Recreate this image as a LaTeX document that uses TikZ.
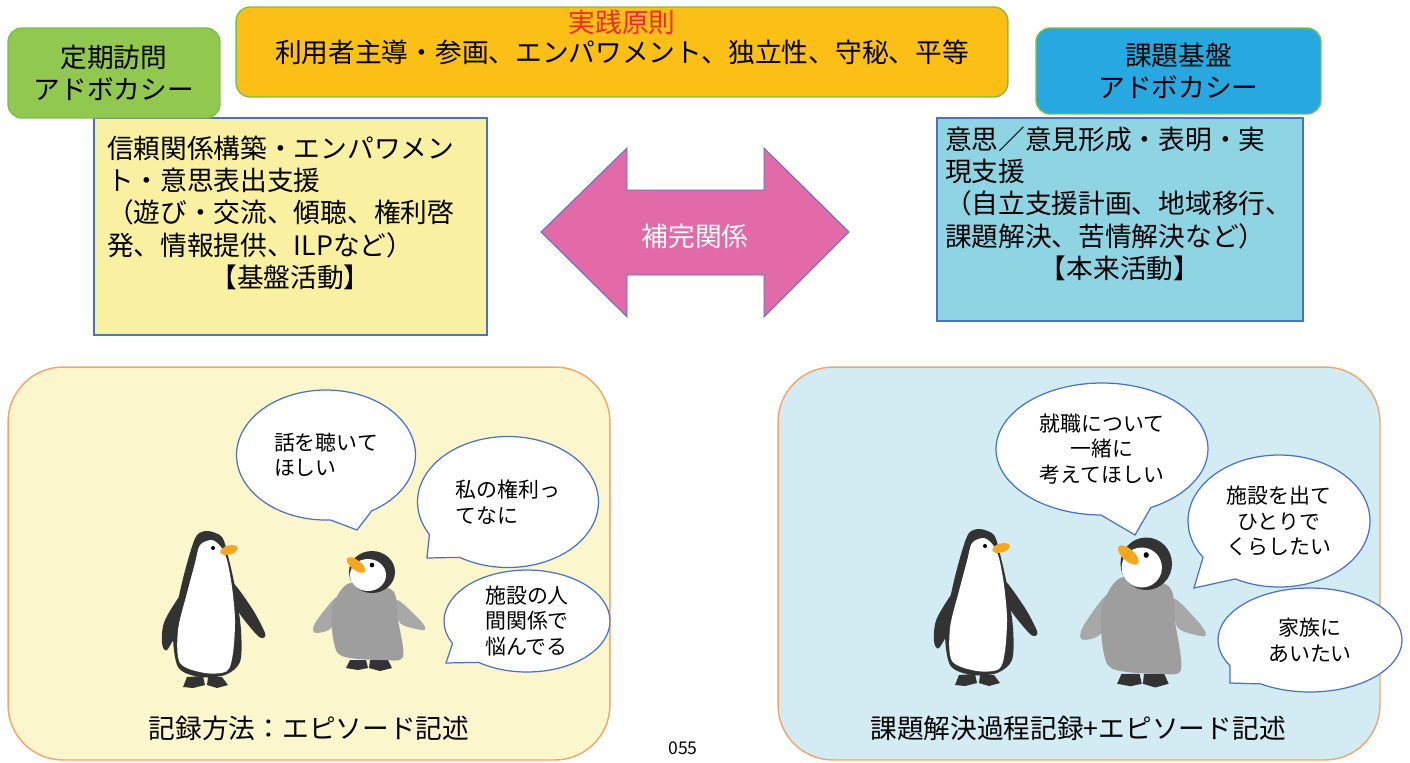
\documentclass[tikz,border=0pt]{standalone}
\usepackage{fontspec}
\setmainfont{Noto Sans CJK JP}
\usetikzlibrary{positioning,shapes.callouts}

\definecolor{visitgreen}{HTML}{90C850}
\definecolor{edgegreen}{HTML}{80BC4C}
\definecolor{principlegold}{HTML}{FBBF15}
\definecolor{issueblue}{HTML}{28A8E0}
\definecolor{paleyellow}{HTML}{F9F0A1}
\definecolor{palecyan}{HTML}{8ED4E3}
\definecolor{lineblue}{HTML}{4A72C4}
\definecolor{relpink}{HTML}{E26AA8}
\definecolor{panelyellow}{HTML}{FCF6CC}
\definecolor{panelblue}{HTML}{D3ECF4}
\definecolor{panelorange}{HTML}{F2A469}
\definecolor{titlered}{HTML}{EE2A2A}
\definecolor{penguindark}{HTML}{333333}
\definecolor{beakorange}{HTML}{F5A81E}
\definecolor{chickgray}{HTML}{9E9E9E}
\definecolor{winggray}{HTML}{A8A8A8}

\begin{document}
\begin{tikzpicture}[
    x=0.02cm, y=-0.02cm,
    bigtext/.style={font=\fontsize{15.2}{18.3}\selectfont},
    topbox/.style={rectangle, rounded corners=0.28cm, draw=edgegreen, line width=0.8pt, align=center, inner sep=0pt, bigtext},
    notebox/.style={rectangle, draw=lineblue, line width=0.8pt, inner sep=0pt, bigtext},
    relarrow/.style={fill=relpink, draw=lineblue, line width=0.5pt},
    panel/.style={rectangle, rounded corners=1.1cm, draw=panelorange, line width=0.8pt, minimum width=12.04cm, minimum height=7.86cm},
    bubble/.style={ellipse callout, draw=lineblue, fill=white, line width=0.7pt, callout pointer arc=28, inner sep=0pt, font=\fontsize{11.9}{14.6}\selectfont},
    panelcaption/.style={bigtext},
    adult/.pic={
        % flippers
        \fill[penguindark] plot[smooth cycle] coordinates {(-18,-93) (-40,-60) (-43,-37) (-38,-30) (-25,-53) (-18,-70)};
        \fill[penguindark] plot[smooth cycle] coordinates {(28,-97) (48,-70) (60,-47) (58,-42) (52,-45) (37,-63) (32,-73)};
        % body and belly
        \fill[penguindark] plot[smooth cycle] coordinates {(3,-149) (17,-143) (23,-124) (30,-93) (36,-50) (35,-18) (20,-5) (-5,-3) (-27,-13) (-32,-50) (-24,-93) (-15,-127) (-8,-145)};
        \fill[white] plot[smooth cycle] coordinates {(-5,-135) (7,-140) (16,-133) (22,-120) (27,-93) (30,-60) (28,-27) (22,-9) (0,-7) (-25,-17) (-27,-50) (-18,-87) (-10,-117)};
        % feet
        \fill[penguindark] (-18,-3) -- (-22,7) -- (-12,8) -- (0,5) -- (-2,-4) -- cycle;
        \fill[penguindark] (3,-3) -- (2,5) -- (12,8) -- (23,5) -- (17,-3) -- cycle;
        % beak and eye
        \fill[beakorange, rotate around={15:(24,-130)}] (24,-130) ellipse[x radius=9, y radius=4.5];
        \fill[black] (8,-132) circle[radius=2];
    },
    chick/.pic={
        % flippers
        \fill[winggray] plot[smooth cycle] coordinates {(-33,-68) (-53,-45) (-57,-35) (-53,-32) (-38,-38)};
        \fill[winggray] plot[smooth cycle] coordinates {(27,-65) (47,-48) (55,-38) (52,-35) (30,-42)};
        % feet
        \fill[penguindark] (-20,-5) -- (-24,3) -- (-12,5) -- (-2,3) -- (-4,-5) -- cycle;
        \fill[penguindark] (0,-5) -- (-1,3) -- (10,6) -- (22,3) -- (18,-5) -- cycle;
        % downy body
        \fill[chickgray] plot[smooth cycle] coordinates {(-20,-82) (22,-75) (28,-45) (33,-8) (13,-5) (-20,-7) (-33,-13) (-38,-35) (-37,-60)};
        % head
        \fill[penguindark] (2,-93) ellipse[x radius=23, y radius=21];
        \fill[white] (-2,-90) ellipse[x radius=18, y radius=16];
        \fill[beakorange, rotate around={-37:(-14,-100)}] (-14,-100) ellipse[x radius=11, y radius=5];
        \fill[black] (2,-100) circle[radius=2.3];
    }
]
\useasboundingbox (0,0) rectangle (1410,762);

% Text boxes under the headings
\node[notebox, fill=paleyellow, minimum width=7.86cm, minimum height=4.34cm] (base_box) at (290.5,226.5)
    {\parbox[c][3.62cm][t]{7.34cm}{\raggedright
    信頼関係構築・エンパワメン\\
    ト・意思表出支援\\
    （遊び・交流、傾聴、権利啓\\
    発、情報提供、ILPなど）\\
    \centering 【基盤活動】}};
\node[notebox, fill=palecyan, minimum width=7.32cm, minimum height=4.06cm] (main_box) at (1120,219.5)
    {\parbox[c][3.7cm][t]{7.0cm}{\raggedright
    意思／意見形成・表明・実\\
    現支援\\
    （自立支援計画、地域移行、\\
    課題解決、苦情解決など）\\
    \centering 【本来活動】}};

% Headings
\node[topbox, fill=visitgreen, minimum width=4.24cm, minimum height=1.8cm] (visit_box) at (114,73) {定期訪問\\アドボカシー};
\node[topbox, fill=principlegold, minimum width=15.44cm, minimum height=1.8cm,
      label={[anchor=north, inner sep=0.6mm, text=titlered, bigtext]north:実践原則}] (principle_box) at (622,52)
    {利用者主導・参画、エンパワメント、独立性、守秘、平等};
\node[topbox, fill=issueblue, minimum width=5.7cm, minimum height=1.72cm] (issue_box) at (1178.5,71) {課題基盤\\アドボカシー};

% Double arrow between the two activities
\draw[relarrow] (541,232) -- (627,148) -- (627,190) -- (764,190) -- (764,148) -- (849,232)
    -- (764,317) -- (764,275) -- (627,275) -- (627,317) -- cycle;
\node[bigtext, text=white] (relation) at (695,236) {補完関係};

% Lower panels
\node[panel, fill=panelyellow] (left_panel) at (309,563.5) {};
\node[panel, fill=panelblue] (right_panel) at (1079,563.5) {};

% Penguins
\pic at (205,680) {adult};
\pic at (370,665) {chick};
\pic at (977,678) {adult};
\pic[xscale=1.12, yscale=1.25] at (1144,680) {chick};

% Speech bubbles, left
\node[bubble, minimum width=3.58cm, minimum height=2.6cm, align=left, callout absolute pointer={(357,530)}] (listen_bubble) at (326,455) {話を聴いて\\ほしい};
\node[bubble, minimum width=3.62cm, minimum height=2.62cm, align=left, callout absolute pointer={(427,558)}] (rights_bubble) at (508,502) {私の権利っ\\てなに};
\node[bubble, minimum width=3.32cm, minimum height=2.04cm, align=left, callout absolute pointer={(446,663)}] (worry_bubble) at (527,621) {施設の人\\間関係で\\悩んでる};

% Speech bubbles, right
\node[bubble, minimum width=4.24cm, minimum height=2.64cm, align=center, callout absolute pointer={(1135,535)}] (job_bubble) at (1102,449) {就職について\\一緒に\\考えてほしい};
\node[bubble, minimum width=3.64cm, minimum height=2.64cm, align=center, callout absolute pointer={(1194,588)}] (alone_bubble) at (1279,521) {施設を出て\\ひとりで\\くらしたい};
\node[bubble, minimum width=3.68cm, minimum height=2.08cm, align=center, callout absolute pointer={(1230,683)}] (family_bubble) at (1310,640) {家族に\\あいたい};

% Captions
\node[panelcaption] (left_caption) at (309,728) {記録方法：エピソード記述};
\node[panelcaption] (right_caption) at (1078,728) {課題解決過程記録+エピソード記述};
\node[font=\fontsize{10}{12}\selectfont] (page_no) at (683,748) {055};

\end{tikzpicture}
\end{document}
